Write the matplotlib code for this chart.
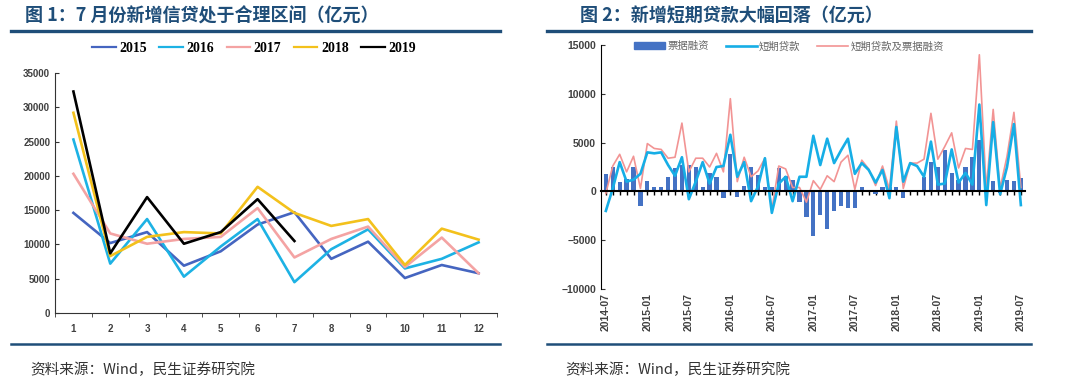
import numpy as np
import matplotlib
matplotlib.use("Agg")
import matplotlib.pyplot as plt
from matplotlib.lines import Line2D
from matplotlib.patches import Patch

plt.rcParams['font.family'] = ['Noto Sans CJK SC', 'DejaVu Sans']

# ---------------- data ----------------
# Fig 1: monthly new RMB loans (亿元), months 1..12
month_labels = ['1', '2', '3', '4', '5', '6', '7', '8', '9', '10', '11', '12']
years = ['2015', '2016', '2017', '2018', '2019']
y2015 = [14600, 10200, 11800, 6900, 9000, 12900, 14700, 7900, 10400, 5100, 7000, 5800]
y2016 = [25300, 7200, 13700, 5300, 9700, 13700, 4500, 9300, 12200, 6500, 7900, 10300]
y2017 = [20300, 11600, 10100, 10800, 11100, 15300, 8100, 10800, 12600, 6700, 11000, 5800]
y2018 = [29200, 8300, 11100, 11800, 11600, 18400, 14600, 12700, 13700, 7000, 12300, 10700]
y2019 = [32300, 8700, 16900, 10100, 11800, 16600, 10500]

# Fig 2: 2014-07 .. 2019-07 monthly (亿元)
date_ticks = ['2014-07', '2015-01', '2015-07', '2016-01', '2016-07', '2017-01',
              '2017-07', '2018-01', '2018-07', '2019-01', '2019-07']
bill = [1800, 2500, 950, 1300, 2500, -1500, 1100, 500, 400, 1500, 2400, 2700,
        2700, 2500, 400, 1900, 1500, -700, 3800, -600, 600, 2500, 1700, 400,
        400, 2400, 1600, 1200, -1100, -2600, -4600, -2400, -3900, -2000, -1500, -1700,
        -1700, 400, 50, -300, 500, 400, 500, -700, 50, 100, 1500, 3000,
        2500, 4200, 1900, 1200, 2500, 3500, 5300, 100, 1100, -200, 1200, 1100,
        1400]
short = [-2000, 300, 3000, 1000, 1200, 1800, 4000, 3900, 4000, 2700, 1600, 3500,
         -800, 1000, 3000, 800, 2500, 2600, 5800, 1500, 3000, -1000, 500, 3400,
         -2200, 800, 1500, -1000, 1500, 1500, 5700, 2700, 5400, 2900, 4200, 5400,
         1800, 2900, 2200, 900, 2200, -700, 6600, 1000, 2900, 2600, 1500, 5100,
         700, 800, 4300, 900, 1900, 700, 8900, -1400, 7100, -300, 2500, 6900,
         -1400]
total = [-200, 2600, 3800, 2000, 3600, 300, 4900, 4400, 4300, 3400, 3500, 7000,
         2000, 3400, 3400, 2500, 3900, 2000, 9500, 1000, 3500, 1500, 2100, 3400,
         -1900, 2600, 2300, 400, 400, -1100, 1100, 200, 1600, 1000, 3000, 3700,
         200, 3200, 2300, 600, 2600, 200, 7200, 300, 2900, 2900, 3300, 8000,
         3300, 4600, 6000, 2400, 4400, 4300, 14000, 200, 8400, 300, 3600, 8100,
         400]

# ---------------- figure ----------------
W, H = 1080, 389
fig = plt.figure(figsize=(W / 100, H / 100), dpi=100, facecolor='white')

def fx(px):
    return px / W

def fy(py):
    return 1 - py / H

navy = '#1f4e79'
tick_col = '#404040'

# titles, rules and sources
fig.text(fx(25), fy(16), '图 1：7 月份新增信贷处于合理区间（亿元）', fontsize=13,
         fontweight='bold', color=navy, va='center', ha='left')
fig.text(fx(580), fy(16), '图 2：新增短期贷款大幅回落（亿元）', fontsize=13,
         fontweight='bold', color=navy, va='center', ha='left')
for x0, x1 in [(11, 500), (547, 1031)]:
    fig.add_artist(Line2D([fx(x0), fx(x1)], [fy(31), fy(31)], color=navy, lw=2.4))
    fig.add_artist(Line2D([fx(x0), fx(x1)], [fy(344), fy(344)], color=navy, lw=1.8))
fig.text(fx(30), fy(370), '资料来源：Wind，民生证券研究院', fontsize=10.5, color='#333333',
         va='center', ha='left')
fig.text(fx(565), fy(370), '资料来源：Wind，民生证券研究院', fontsize=10.5, color='#333333',
         va='center', ha='left')

# ---------------- Fig 1 ----------------
ax1 = fig.add_axes([fx(55), fy(313), fx(442), (313 - 73) / H])
colors1 = ['#4565c0', '#1db2e4', '#f4a3a3', '#f3c11c', '#000000']
series1 = [y2015, y2016, y2017, y2018, y2019]
for yr, vals, c in zip(years, series1, colors1):
    ax1.plot(np.arange(1, len(vals) + 1), vals, color=c, lw=1.9, label=yr)
ax1.set_xlim(0.5, 12.5)
ax1.set_ylim(0, 35000)
ax1.set_yticks(np.arange(0, 35001, 5000))
ax1.set_xticks(np.arange(1, 13))
ax1.set_xticklabels(month_labels)
ax1.set_xticks(np.arange(0.5, 12.6, 1), minor=True)
ax1.tick_params(axis='x', which='major', length=0, pad=8)
ax1.tick_params(axis='x', which='minor', length=3, direction='out', color='#333333')
ax1.tick_params(axis='y', length=3, direction='in', color='#333333')
for lab in ax1.get_xticklabels() + ax1.get_yticklabels():
    lab.set_family('Liberation Sans')
    lab.set_fontweight('bold')
    lab.set_fontsize(7)
    lab.set_color(tick_col)
ax1.spines['top'].set_visible(False)
ax1.spines['right'].set_visible(False)
ax1.spines['left'].set_color('#333333')
ax1.spines['bottom'].set_color('#333333')
leg1 = ax1.legend(loc='center', bbox_to_anchor=((254 - 55) / 442, (313 - 48) / 240),
                  ncol=5, frameon=False, handlelength=1.7, columnspacing=0.9,
                  handletextpad=0.25,
                  prop={'family': 'Liberation Serif', 'weight': 'bold', 'size': 10})
for ln in leg1.get_lines():
    ln.set_linewidth(1.6)

# ---------------- Fig 2 ----------------
ax2 = fig.add_axes([fx(601), fy(289), fx(424), (289 - 45) / H])
idx = np.arange(len(bill))
ax2.bar(idx, bill, width=0.62, color='#4472c4', zorder=2, label='票据融资')
ax2.plot(idx, short, color='#16aee6', lw=1.9, zorder=4, label='短期贷款')
ax2.plot(idx, total, color='#f29494', lw=1.2, zorder=3, label='短期贷款及票据融资')
ax2.set_xlim(-0.7, 60.6)
ax2.set_ylim(-10000, 15000)
ax2.set_yticks(np.arange(-10000, 15001, 5000))
ax2.tick_params(axis='y', length=3, direction='in', color='#333333', labelsize=7.5,
                labelcolor=tick_col)
for lab in ax2.get_yticklabels():
    lab.set_family('Liberation Sans')
    lab.set_fontweight('bold')

# zero line with monthly ticks
ax2.spines['bottom'].set_position(('data', 0))
ax2.spines['bottom'].set_linewidth(1.5)
ax2.spines['bottom'].set_zorder(5)
ax2.set_xticks(idx)
ax2.tick_params(axis='x', length=3, width=1, direction='out', labelbottom=False, color='black')
ax2.spines['top'].set_visible(False)
ax2.spines['right'].set_visible(False)

# date labels along the bottom
sec = ax2.secondary_xaxis('bottom')
sec.set_xticks(idx[::6])
sec.set_xticklabels(date_ticks, rotation=90)
sec.spines['bottom'].set_visible(False)
sec.tick_params(length=0, pad=3, labelsize=7.5, labelcolor=tick_col)
for lab in sec.get_xticklabels():
    lab.set_family('Liberation Sans')
    lab.set_fontweight('bold')

handles = [Patch(color='#4472c4'), Line2D([], [], color='#16aee6', lw=1.9),
           Line2D([], [], color='#f29494', lw=1.2)]
ax2.legend(handles, ['票据融资', '短期贷款', '短期贷款及票据融资'], loc='center',
           bbox_to_anchor=((789 - 601) / 424, (289 - 45) / 244 - 0.005), ncol=3,
           frameon=False, handlelength=3.0, handletextpad=0.2, columnspacing=1.6,
           prop={'size': 7.5}, labelcolor='#666666')

fig.savefig('out.png', dpi=100, facecolor='white')
